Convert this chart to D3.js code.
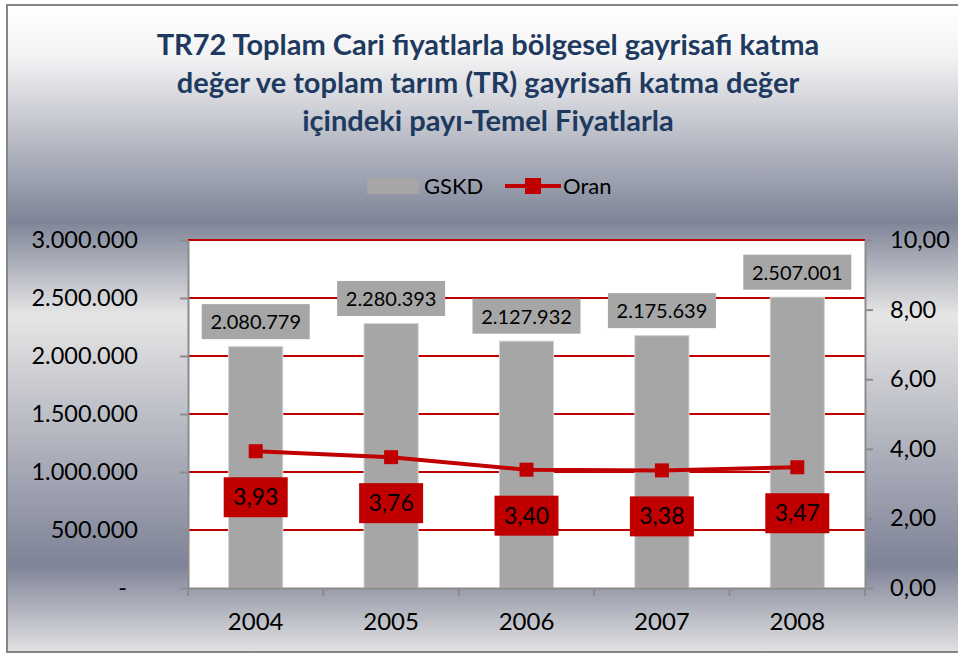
<!DOCTYPE html>
<html>
<head>
<meta charset="utf-8">
<script src="https://cdn.jsdelivr.net/npm/d3@7"></script>
<style>
  body { margin: 0; background: #fff; }
  text { font-family: Lato, "Open Sans", sans-serif; }
</style>
</head>
<body>
<div id="chart-area"></div>
<script>
// data
var years = ["2004", "2005", "2006", "2007", "2008"];
var gskd = [2080779, 2280393, 2127932, 2175639, 2507001];
var oran = [3.93, 3.76, 3.40, 3.38, 3.47];
var leftTicks = [0, 500000, 1000000, 1500000, 2000000, 2500000, 3000000];
var rightTicks = [0, 2, 4, 6, 8, 10];
var titleLines = [
  "TR72 Toplam Cari fiyatlarla bölgesel gayrisafi katma",
  "değer ve toplam tarım (TR) gayrisafi katma değer",
  "içindeki payı-Temel Fiyatlarla"
];

var data = years.map(function(y, i) {
  return {year: y, gskd: gskd[i], oran: oran[i]};
});

var tr = d3.formatLocale({decimal: ",", thousands: ".", grouping: [3], currency: ["", " TL"]});
var fmtInt = tr.format(",");
var fmtDec = tr.format(",.2f");

var margin = {top: 240, bottom: 67, right: 93, left: 188};
var width = 958 - margin.left - margin.right;
var height = 655 - margin.top - margin.bottom;

var svg = d3.select("#chart-area")
  .append("svg")
  .attr("width", 958)
  .attr("height", 655);

// metallic background
var defs = svg.append("defs");
var grad = defs.append("linearGradient")
  .attr("id", "bg")
  .attr("x1", 0).attr("y1", 0).attr("x2", 0).attr("y2", 1);
[[0, "#ffffff"], [0.08, "#f3f3f4"], [0.335, "#7f8598"], [0.48, "#e6e6e6"], [0.865, "#7e8397"], [1, "#e2e2e3"]]
  .forEach(function(s) {
    grad.append("stop").attr("offset", s[0]).attr("stop-color", s[1]);
  });

svg.append("rect")
  .attr("x", 7).attr("y", 5)
  .attr("width", 960).attr("height", 647)
  .attr("fill", "url(#bg)")
  .attr("stroke", "#868686")
  .attr("stroke-width", 2);

// title
var title = svg.append("text")
  .attr("text-anchor", "middle")
  .attr("font-weight", "bold")
  .attr("font-size", "29px")
  .attr("fill", "#1f3a60");
title.selectAll("tspan")
  .data(titleLines)
  .enter()
  .append("tspan")
  .attr("x", 488)
  .attr("y", function(d, i) { return 55 + i * 38; })
  .text(function(d) { return d; });

// legend
var legend = svg.append("g").attr("class", "legend");
legend.append("rect")
  .attr("x", 367).attr("y", 178).attr("width", 52).attr("height", 16)
  .attr("fill", "#a6a6a6");
legend.append("text")
  .attr("x", 424).attr("y", 194)
  .attr("font-size", "22px")
  .text("GSKD");
legend.append("line")
  .attr("x1", 505).attr("x2", 561).attr("y1", 186).attr("y2", 186)
  .attr("stroke", "#c00000").attr("stroke-width", 4);
legend.append("rect")
  .attr("x", 525).attr("y", 178).attr("width", 16).attr("height", 16)
  .attr("fill", "#c00000");
legend.append("text")
  .attr("x", 563).attr("y", 194)
  .attr("font-size", "22px")
  .text("Oran");

var g = svg.append("g")
  .attr("transform", "translate(" + margin.left + "," + margin.top + ")");

var xScale = d3.scaleBand()
  .domain(years)
  .range([0, width]);

var barScale = d3.scaleBand()
  .domain(years)
  .range([0, width])
  .paddingInner(0.6)
  .paddingOuter(0.3);

var yLeft = d3.scaleLinear()
  .domain([0, 3000000])
  .range([height, 0]);

var yRight = d3.scaleLinear()
  .domain([0, 10])
  .range([height, 0]);

// plot area
g.append("rect")
  .attr("width", width)
  .attr("height", height)
  .attr("fill", "#ffffff");

// red gridlines
g.append("g")
  .attr("class", "grid")
  .selectAll("line")
  .data(leftTicks.filter(function(d) { return d > 0; }))
  .enter()
  .append("line")
  .attr("x1", 0).attr("x2", width)
  .attr("y1", function(d) { return yLeft(d); })
  .attr("y2", function(d) { return yLeft(d); })
  .attr("stroke", "#c00000")
  .attr("stroke-width", 2);

// bars
g.append("g")
  .attr("class", "bars")
  .selectAll("rect")
  .data(data)
  .enter()
  .append("rect")
  .attr("x", function(d) { return barScale(d.year); })
  .attr("y", function(d) { return yLeft(d.gskd); })
  .attr("width", barScale.bandwidth())
  .attr("height", function(d) { return height - yLeft(d.gskd); })
  .attr("fill", "#a6a6a6")
  .attr("stroke", "#d4d4d4")
  .attr("stroke-width", 1);

// axes
var leftAxis = d3.axisLeft(yLeft)
  .tickValues(leftTicks)
  .tickSize(8)
  .tickSizeOuter(0)
  .tickPadding(42)
  .tickFormat(function(d) { return d === 0 ? "-" : fmtInt(d); });

var rightAxis = d3.axisRight(yRight)
  .tickValues(rightTicks)
  .tickSize(8)
  .tickSizeOuter(0)
  .tickPadding(17)
  .tickFormat(fmtDec);

var la = g.append("g").attr("class", "leftAxis").call(leftAxis);
var ra = g.append("g").attr("class", "rightAxis")
  .attr("transform", "translate(" + width + ",0)")
  .call(rightAxis);

la.selectAll("text").filter(function(d) { return d === 0; }).attr("dx", -11);

[la, ra].forEach(function(a) {
  a.select(".domain").attr("stroke", "#8c8c8c").attr("stroke-width", 2);
  a.selectAll(".tick line").attr("stroke", "#8c8c8c").attr("stroke-width", 2);
  a.selectAll("text")
    .attr("font-size", "23.5px")
    .attr("fill", "#000")
    .style("font-family", "Lato, 'Open Sans', sans-serif");
});

var bottomAxis = d3.axisBottom(xScale)
  .tickSize(0)
  .tickPadding(25);

var ba = g.append("g").attr("class", "bottomAxis")
  .attr("transform", "translate(0," + height + ")")
  .call(bottomAxis);
ba.select(".domain").attr("stroke", "#8c8c8c").attr("stroke-width", 2);
ba.selectAll("text")
  .attr("font-size", "24px")
  .attr("fill", "#000")
  .style("font-family", "Lato, 'Open Sans', sans-serif");

// category boundary ticks under the axis
var bounds = years.map(function(y) { return xScale(y); }).concat([width]);
ba.selectAll(".bound")
  .data(bounds)
  .enter()
  .append("line")
  .attr("class", "bound")
  .attr("x1", function(d) { return d; })
  .attr("x2", function(d) { return d; })
  .attr("y1", 0).attr("y2", 8)
  .attr("stroke", "#8c8c8c")
  .attr("stroke-width", 2);

// GSKD value labels
var bl = g.append("g").attr("class", "barLabels")
  .selectAll("g")
  .data(data)
  .enter()
  .append("g")
  .attr("transform", function(d) {
    return "translate(" + (xScale(d.year) + xScale.bandwidth() / 2) + "," + (yLeft(d.gskd) - 7.5) + ")";
  });
bl.append("rect")
  .attr("x", -54).attr("y", -35)
  .attr("width", 108).attr("height", 35)
  .attr("fill", "#a6a6a6");
bl.append("text")
  .attr("text-anchor", "middle")
  .attr("y", -10)
  .attr("font-size", "20px")
  .attr("fill", "#000")
  .text(function(d) { return fmtInt(d.gskd); });

// Oran line
var line = d3.line()
  .x(function(d) { return xScale(d.year) + xScale.bandwidth() / 2; })
  .y(function(d) { return yRight(d.oran); });

g.append("path")
  .datum(data)
  .attr("d", line)
  .attr("fill", "none")
  .attr("stroke", "#c00000")
  .attr("stroke-width", 4);

g.append("g")
  .attr("class", "markers")
  .selectAll("rect")
  .data(data)
  .enter()
  .append("rect")
  .attr("x", function(d) { return xScale(d.year) + xScale.bandwidth() / 2 - 7; })
  .attr("y", function(d) { return yRight(d.oran) - 7; })
  .attr("width", 14).attr("height", 14)
  .attr("fill", "#c00000");

// Oran value labels
var ol = g.append("g").attr("class", "oranLabels")
  .selectAll("g")
  .data(data)
  .enter()
  .append("g")
  .attr("transform", function(d) {
    return "translate(" + (xScale(d.year) + xScale.bandwidth() / 2) + "," + (yRight(d.oran) + 46) + ")";
  });
ol.append("rect")
  .attr("x", -32).attr("y", -20)
  .attr("width", 64).attr("height", 40)
  .attr("fill", "#c00000");
ol.append("text")
  .attr("text-anchor", "middle")
  .attr("y", 8)
  .attr("font-size", "23px")
  .attr("fill", "#000")
  .text(function(d) { return fmtDec(d.oran); });
</script>
</body>
</html>
